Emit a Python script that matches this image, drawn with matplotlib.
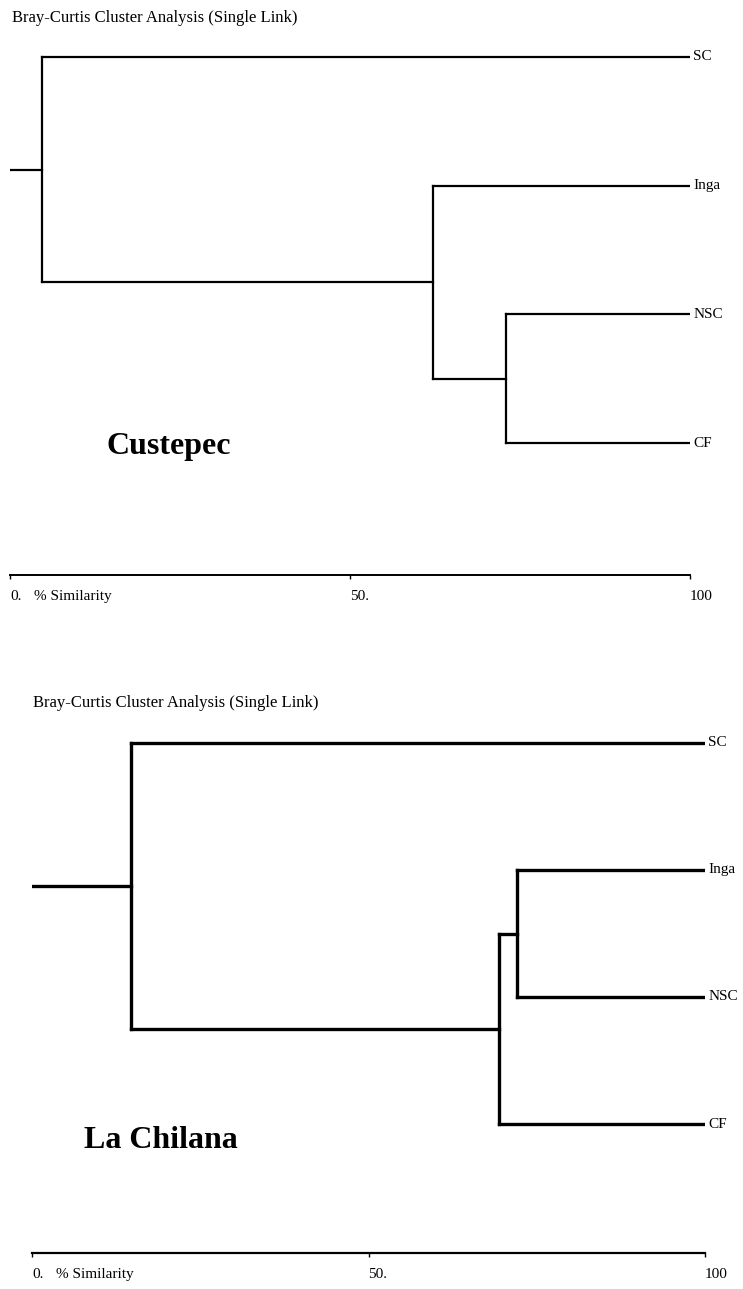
import matplotlib
matplotlib.use("Agg")
import matplotlib.pyplot as plt

# dendrogram data (similarity in %)
leaves = ["SC", "Inga", "NSC", "CF"]

# merges: (child a, child b, similarity); children >= 4 are earlier merges
custepec_merges = [(2, 3, 73.0), (1, 4, 62.2), (0, 5, 4.7)]
chilana_merges = [(1, 2, 72.1), (4, 3, 69.4), (0, 5, 14.7)]

tick_values = [0, 50, 100]
tick_labels = ["0.", "50.", "100"]

W, H = 743, 1289
DPI = 100
SERIF = ["Liberation Serif", "DejaVu Serif"]


def px_axes(fig, x0, x1, y_top, y_bot):
    return fig.add_axes([x0 / W, 1 - y_bot / H, (x1 - x0) / W, (y_bot - y_top) / H])


def draw_dendrogram(ax, merges, lw):
    xs = {i: 100.0 for i in range(len(leaves))}
    ys = {i: float(i) for i in range(len(leaves))}
    node = len(leaves)
    for a, b, sim in merges:
        for c in (a, b):
            ax.plot([xs[c], sim], [ys[c], ys[c]], color="black", lw=lw,
                    solid_capstyle="projecting")
        ax.plot([sim, sim], [ys[a], ys[b]], color="black", lw=lw,
                solid_capstyle="projecting")
        xs[node] = sim
        ys[node] = (ys[a] + ys[b]) / 2
        node += 1
    root = node - 1
    ax.plot([0, xs[root]], [ys[root], ys[root]], color="black", lw=lw,
            solid_capstyle="projecting")
    for i, name in enumerate(leaves):
        ax.text(100.5, i, name, ha="left", va="center", fontsize=11,
                family=SERIF)


def setup_panel(ax, y_top_data, y_bot_data, lw):
    ax.set_xlim(0, 100)
    ax.set_ylim(y_bot_data, y_top_data)
    for s in ["top", "right", "left"]:
        ax.spines[s].set_visible(False)
    ax.spines["bottom"].set_linewidth(lw)
    ax.set_yticks([])
    ax.set_xticks(tick_values)
    ax.set_xticklabels(tick_labels, ha="left", family=SERIF, fontsize=11)
    ax.tick_params(axis="x", length=3, width=1, pad=8)
    ax.annotate("% Similarity", xy=(3.5, 0), xycoords=("data", "axes fraction"),
                xytext=(0, -11), textcoords="offset points", ha="left",
                va="top", family=SERIF, fontsize=11)
    ax.patch.set_alpha(0)


fig = plt.figure(figsize=(W / DPI, H / DPI), dpi=DPI)

# top panel: Custepec
sp1 = 128.67
ax1 = px_axes(fig, 10, 690, 40, 575)
setup_panel(ax1, (40 - 57) / sp1, (575 - 57) / sp1, 1.4)
draw_dendrogram(ax1, custepec_merges, 1.6)
fig.text(12 / W, 1 - 18 / H, "Bray-Curtis Cluster Analysis (Single Link)",
         ha="left", va="center", family=SERIF, fontsize=12)
fig.text(107 / W, 1 - 447 / H, "Custepec", ha="left", va="center",
         family=SERIF, fontsize=23, weight="bold")

# bottom panel: La Chilana
sp2 = 127.0
ax2 = px_axes(fig, 32, 705, 725, 1253)
setup_panel(ax2, (725 - 743) / sp2, (1253 - 743) / sp2, 1.6)
draw_dendrogram(ax2, chilana_merges, 2.4)
fig.text(33 / W, 1 - 703 / H, "Bray-Curtis Cluster Analysis (Single Link)",
         ha="left", va="center", family=SERIF, fontsize=12)
fig.text(84 / W, 1 - 1140 / H, "La Chilana", ha="left", va="center",
         family=SERIF, fontsize=23, weight="bold")

fig.savefig("out.png", dpi=DPI)
